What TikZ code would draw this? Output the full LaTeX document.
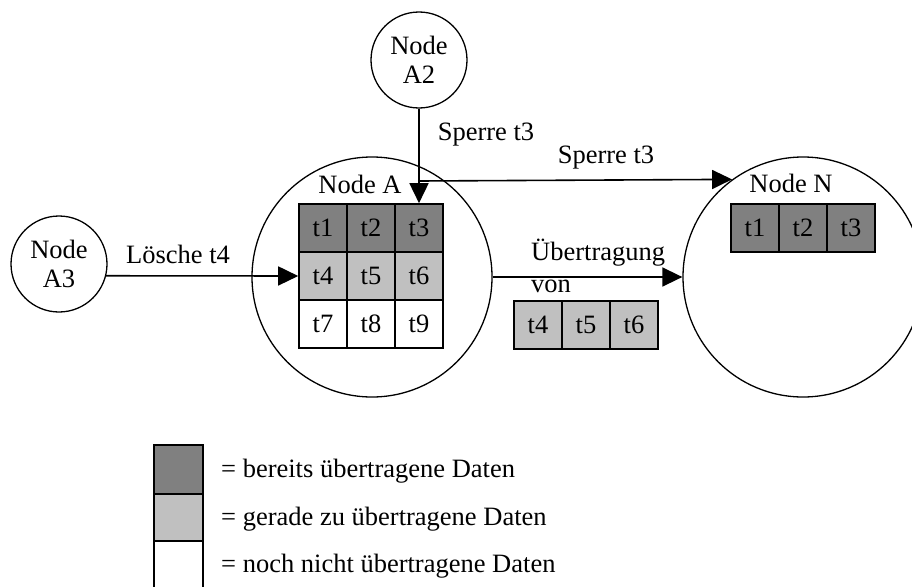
\documentclass[tikz,border=0pt]{standalone}
\usepackage{fontspec}
\setmainfont{Liberation Serif}
\usetikzlibrary{arrows.meta}
\definecolor{done}{HTML}{808080}
\definecolor{busy}{HTML}{C0C0C0}
\begin{document}
\begin{tikzpicture}[x=1pt,y=-1pt,
  font=\fontsize{26.5}{31}\selectfont,
  every node/.style={inner sep=0pt},
  site/.style={circle,draw,line width=1.3pt,minimum size=#1},
  cell/.style={draw,line width=1.6pt,minimum size=48pt,fill=#1},
  flow/.style={line width=1.6pt,-{Triangle[length=20pt,width=19pt]}},
  lbl/.style={anchor=base}]
\useasboundingbox (0,0) rectangle (912,586);
\clip (0,0) rectangle (912,586);

% sites
\node[site=96pt] (A2) at (419,60) {};
\node[align=center] at (A2) {Node\\[-2pt]A2};
\node[site=96pt] (A3) at (59,264) {};
\node[align=center] at (A3) {Node\\[-2pt]A3};
\node[site=240pt] (A) at (372,277) {};
\node[site=240pt] (N) at (803,277) {};
\node (Alabel) at (360,184) {Node A};
\node (Nlabel) at (791,183) {Node N};

% data blocks in node A
\node[cell=done] (t1) at (323,228) {t1};
\node[cell=done] (t2) at (371,228) {t2};
\node[cell=done] (t3) at (419,228) {t3};
\node[cell=busy] (t4) at (323,276) {t4};
\node[cell=busy] (t5) at (371,276) {t5};
\node[cell=busy] (t6) at (419,276) {t6};
\node[cell=white] (t7) at (323,324) {t7};
\node[cell=white] (t8) at (371,324) {t8};
\node[cell=white] (t9) at (419,324) {t9};

% data blocks in node N
\node[cell=done] (n1) at (755,228) {t1};
\node[cell=done] (n2) at (803,228) {t2};
\node[cell=done] (n3) at (851,228) {t3};

% blocks being transferred
\node[cell=busy] (u4) at (538,325) {t4};
\node[cell=busy] (u5) at (586,325) {t5};
\node[cell=busy] (u6) at (634,325) {t6};

% connectors
\coordinate (split) at (419,181);
\draw[flow] (A2.south) -- (t3.north);
\draw[flow] (split) -- (N.126.87);
\draw[flow] (A3.-14.48) -- (t4.west);
\draw[flow] (A.east) -- (N.west);

% connector labels
\node (s1) at (486,135) {Sperre t3};
\node (s2) at (606,158) {Sperre t3};
\node (del) at (178,254) {Lösche t4};
\node[anchor=west] (tr) at (531,253) {Übertragung};
\node[anchor=west] (von) at (531,286) {von};

% legend
\node[cell=done,minimum width=49pt,minimum height=49pt] (k1) at (178.5,469.5) {};
\node[cell=busy,minimum width=49pt,minimum height=47pt] (k2) at (178.5,517.5) {};
\node[cell=white,minimum width=49pt,minimum height=49pt] (k3) at (178.5,565.5) {};
\node[anchor=west] (d1) at (221,471) {= bereits übertragene Daten};
\node[anchor=west] (d2) at (221,519) {= gerade zu übertragene Daten};
\node[anchor=west] (d3) at (221,566) {= noch nicht übertragene Daten};
\end{tikzpicture}
\end{document}
